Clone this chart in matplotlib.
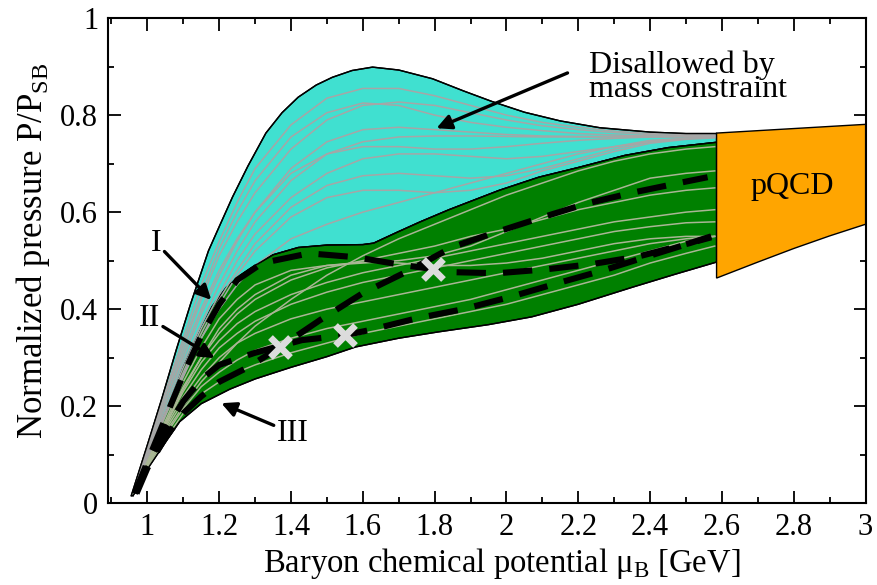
import numpy as np
import matplotlib
matplotlib.use("Agg")
import matplotlib.pyplot as plt
from matplotlib.ticker import MultipleLocator, FormatStrFormatter

plt.rcParams['font.family'] = ['Liberation Serif', 'DejaVu Serif']
plt.rcParams['mathtext.fontset'] = 'custom'
plt.rcParams['mathtext.rm'] = 'Liberation Serif'

# Region boundaries
cyan_top_x = [0.955, 1.0, 1.04, 1.08, 1.12, 1.17, 1.2, 1.237, 1.28, 1.33, 1.375, 1.42, 1.47,
              1.515, 1.57, 1.627, 1.7, 1.794, 1.88, 1.96, 2.05, 2.15, 2.26, 2.4, 2.5, 2.585]
cyan_top_y = [0.015, 0.12, 0.215, 0.315, 0.41, 0.52, 0.57, 0.631, 0.695, 0.763, 0.805, 0.837, 0.862,
              0.878, 0.892, 0.899, 0.893, 0.875, 0.85, 0.828, 0.806, 0.788, 0.774, 0.765, 0.762, 0.762]

green_top_x = [0.96, 1.0, 1.05, 1.1, 1.15, 1.18, 1.22, 1.26, 1.3, 1.35, 1.42, 1.5, 1.6, 1.63,
               1.7, 1.76, 1.84, 1.98, 2.09, 2.2, 2.33, 2.45, 2.585]
green_top_y = [0.015, 0.09, 0.185, 0.28, 0.36, 0.405, 0.445, 0.47, 0.49, 0.512, 0.527, 0.532, 0.533, 0.536,
               0.56, 0.58, 0.605, 0.645, 0.672, 0.692, 0.717, 0.733, 0.744]

green_bot_x = [0.96, 1.0, 1.05, 1.09, 1.15, 1.23, 1.3, 1.4, 1.5, 1.58, 1.7, 1.81, 1.95, 2.07,
               2.2, 2.35, 2.47, 2.585]
green_bot_y = [0.015, 0.07, 0.125, 0.168, 0.205, 0.235, 0.256, 0.28, 0.302, 0.322, 0.34, 0.353, 0.368, 0.384,
               0.41, 0.445, 0.472, 0.497]

pqcd_x = [2.585, 2.585, 3.0, 3.0, 2.9, 2.8, 2.7]
pqcd_y = [0.464, 0.763, 0.781, 0.575, 0.551, 0.525, 0.497]

# Thin EOS curves, sampled on a common grid
grid_x = [0.96, 1.0, 1.05, 1.1, 1.15, 1.2, 1.25, 1.3, 1.4, 1.5, 1.6, 1.7, 1.8, 1.9, 2.0,
          2.1, 2.2, 2.3, 2.4, 2.5, 2.58]

cyan_curves = [
    [0.02, 0.115, 0.23, 0.34, 0.45, 0.54, 0.62, 0.69, 0.78, 0.835, 0.855, 0.855, 0.84, 0.82, 0.80, 0.785, 0.775, 0.767, 0.762, 0.76, 0.76],
    [0.02, 0.11, 0.225, 0.33, 0.43, 0.525, 0.6, 0.665, 0.755, 0.805, 0.825, 0.82, 0.80, 0.785, 0.775, 0.768, 0.762, 0.759, 0.757, 0.757, 0.758],
    [0.02, 0.11, 0.22, 0.32, 0.42, 0.51, 0.58, 0.64, 0.73, 0.79, 0.82, 0.827, 0.82, 0.805, 0.79, 0.778, 0.77, 0.764, 0.76, 0.758, 0.758],
    [0.02, 0.105, 0.21, 0.30, 0.39, 0.47, 0.54, 0.60, 0.69, 0.745, 0.77, 0.775, 0.77, 0.765, 0.76, 0.757, 0.756, 0.756, 0.756, 0.756, 0.757],
    [0.02, 0.10, 0.20, 0.29, 0.37, 0.45, 0.52, 0.58, 0.665, 0.72, 0.745, 0.755, 0.757, 0.757, 0.756, 0.755, 0.755, 0.755, 0.755, 0.755, 0.756],
    [0.02, 0.105, 0.21, 0.31, 0.40, 0.48, 0.545, 0.6, 0.68, 0.72, 0.735, 0.735, 0.73, 0.73, 0.735, 0.742, 0.748, 0.752, 0.755, 0.757, 0.758],
    [0.02, 0.10, 0.19, 0.28, 0.36, 0.43, 0.50, 0.555, 0.63, 0.68, 0.71, 0.72, 0.72, 0.715, 0.71, 0.715, 0.725, 0.735, 0.745, 0.752, 0.755],
    [0.02, 0.095, 0.185, 0.27, 0.35, 0.42, 0.48, 0.535, 0.61, 0.655, 0.675, 0.68, 0.675, 0.67, 0.675, 0.69, 0.71, 0.73, 0.745, 0.752, 0.755],
    [0.02, 0.095, 0.18, 0.265, 0.34, 0.41, 0.47, 0.52, 0.59, 0.63, 0.645, 0.645, 0.64, 0.645, 0.66, 0.685, 0.705, 0.725, 0.742, 0.75, 0.753],
    [0.02, 0.09, 0.18, 0.26, 0.34, 0.40, 0.45, 0.49, 0.545, 0.575, 0.60, 0.62, 0.64, 0.66, 0.68, 0.70, 0.72, 0.735, 0.748, 0.752, 0.755],
]

green_curves = [
    [0.02, 0.085, 0.17, 0.25, 0.32, 0.38, 0.42, 0.45, 0.48, 0.49, 0.495, 0.50, 0.51, 0.53, 0.56, 0.59, 0.62, 0.645, 0.67, 0.68, 0.685],
    [0.02, 0.085, 0.165, 0.24, 0.30, 0.35, 0.39, 0.42, 0.46, 0.485, 0.50, 0.515, 0.53, 0.55, 0.565, 0.585, 0.605, 0.62, 0.635, 0.645, 0.65],
    [0.02, 0.08, 0.16, 0.23, 0.29, 0.335, 0.37, 0.395, 0.43, 0.455, 0.475, 0.49, 0.505, 0.52, 0.535, 0.55, 0.565, 0.58, 0.59, 0.60, 0.605],
    [0.02, 0.08, 0.155, 0.22, 0.275, 0.32, 0.35, 0.375, 0.41, 0.435, 0.455, 0.47, 0.485, 0.50, 0.515, 0.53, 0.545, 0.56, 0.57, 0.578, 0.58],
    [0.02, 0.078, 0.15, 0.21, 0.26, 0.30, 0.33, 0.35, 0.38, 0.40, 0.415, 0.43, 0.445, 0.46, 0.475, 0.49, 0.505, 0.52, 0.535, 0.545, 0.55],
    [0.02, 0.075, 0.14, 0.195, 0.24, 0.27, 0.295, 0.315, 0.34, 0.36, 0.375, 0.39, 0.405, 0.42, 0.44, 0.46, 0.48, 0.50, 0.52, 0.54, 0.55],
    [0.02, 0.075, 0.145, 0.2, 0.25, 0.29, 0.33, 0.365, 0.42, 0.47, 0.51, 0.545, 0.575, 0.605, 0.635, 0.66, 0.685, 0.705, 0.72, 0.73, 0.735],
    [0.02, 0.08, 0.16, 0.235, 0.3, 0.36, 0.4, 0.43, 0.47, 0.49, 0.497, 0.495, 0.49, 0.49, 0.495, 0.505, 0.52, 0.535, 0.545, 0.55, 0.55],
    [0.02, 0.072, 0.132, 0.185, 0.225, 0.25, 0.27, 0.285, 0.31, 0.33, 0.35, 0.365, 0.38, 0.395, 0.41, 0.43, 0.45, 0.47, 0.495, 0.515, 0.53],
]

# Representative EOSs I, II, III
eos1_x = [0.965, 1.0, 1.05, 1.1, 1.15, 1.2, 1.25, 1.32, 1.45, 1.58, 1.71, 1.79, 1.86, 1.975,
          2.11, 2.24, 2.37, 2.51, 2.57]
eos1_y = [0.02, 0.085, 0.175, 0.265, 0.345, 0.41, 0.46, 0.495, 0.515, 0.507, 0.491, 0.483, 0.476, 0.474,
          0.482, 0.493, 0.509, 0.536, 0.55]
eos2_x = [0.965, 1.0, 1.05, 1.1, 1.15, 1.2, 1.3, 1.43, 1.55, 1.62, 1.75, 1.88, 2.01, 2.14,
          2.27, 2.39, 2.52, 2.57]
eos2_y = [0.02, 0.08, 0.15, 0.21, 0.255, 0.285, 0.31, 0.336, 0.346, 0.357, 0.381, 0.40, 0.425, 0.453,
          0.48, 0.508, 0.538, 0.548]
eos3_x = [0.97, 1.0, 1.05, 1.1, 1.15, 1.2, 1.28, 1.37, 1.48, 1.6, 1.73, 1.85, 1.96, 2.09,
          2.22, 2.35, 2.48, 2.56]
eos3_y = [0.02, 0.072, 0.135, 0.185, 0.22, 0.25, 0.28, 0.322, 0.377, 0.433, 0.48, 0.528, 0.556, 0.587,
          0.617, 0.64, 0.66, 0.672]

# Centres of maximally massive stars
cross_x = [1.37, 1.55, 1.795]
cross_y = [0.322, 0.346, 0.483]

fig = plt.figure(figsize=(8.77, 5.85), dpi=100)
ax = fig.add_axes([0.123, 0.140, 0.864, 0.829])

ax.fill(cyan_top_x + green_top_x[::-1], cyan_top_y + green_top_y[::-1],
        facecolor='#40e0d0', edgecolor='black', lw=1.0, zorder=1)
ax.fill(green_top_x + green_bot_x[::-1], green_top_y + green_bot_y[::-1],
        facecolor='#008000', edgecolor='black', lw=1.0, zorder=2)

for cy in cyan_curves:
    ax.plot(grid_x, cy, color='#a6a6a6', lw=1.1, zorder=3)
for gy in green_curves:
    ax.plot(grid_x, gy, color='#a9b694', lw=1.1, zorder=3)

# redraw outlines above the thin curves
ax.plot(cyan_top_x, cyan_top_y, color='black', lw=1.0, zorder=4)
ax.plot(green_top_x[7:], green_top_y[7:], color='black', lw=1.0, zorder=4)
ax.plot(green_bot_x, green_bot_y, color='black', lw=1.0, zorder=4)
ax.plot([green_bot_x[-1], cyan_top_x[-1]], [green_bot_y[-1], cyan_top_y[-1]], color='black', lw=1.0, zorder=4)

for ex, ey in [(eos1_x, eos1_y), (eos2_x, eos2_y), (eos3_x, eos3_y)]:
    ax.plot(ex, ey, color='black', lw=4.4, dashes=(4.8, 2.8), zorder=5)

ax.plot(cross_x, cross_y, ls='none', marker='x', ms=15, mew=4.8, color='#dcdcdc', zorder=6)

ax.fill(pqcd_x, pqcd_y, facecolor='#ffa500', edgecolor='black', lw=1.0, zorder=7)
ax.text(2.797, 0.652, 'pQCD', fontsize=23, ha='center', va='center', zorder=8)

arrow = dict(arrowstyle='-|>', color='black', lw=2.4, mutation_scale=22, shrinkA=0, shrinkB=0)
ax.annotate('', xy=(1.805, 0.773), xytext=(2.17, 0.887), arrowprops=arrow, zorder=8)
ax.text(2.23, 0.878, 'Disallowed by\nmass constraint', fontsize=23, ha='left', va='center',
        linespacing=0.78, zorder=8)
ax.annotate('I', xy=(1.178, 0.419), xytext=(1.025, 0.536), arrowprops=arrow,
            fontsize=23, ha='center', va='center', zorder=8)
ax.annotate('II', xy=(1.187, 0.299), xytext=(1.006, 0.381), arrowprops=arrow,
            fontsize=23, ha='center', va='center', zorder=8)
ax.annotate('III', xy=(1.206, 0.206), xytext=(1.404, 0.144), arrowprops=arrow,
            fontsize=23, ha='center', va='center', zorder=8)

ax.set_xlim(0.89, 3.0)
ax.set_ylim(0, 1)
ax.xaxis.set_major_locator(MultipleLocator(0.2))
ax.xaxis.set_minor_locator(MultipleLocator(0.1))
ax.yaxis.set_major_locator(MultipleLocator(0.2))
ax.yaxis.set_minor_locator(MultipleLocator(0.1))
ax.xaxis.set_major_formatter(FormatStrFormatter('%g'))
ax.yaxis.set_major_formatter(FormatStrFormatter('%g'))
ax.tick_params(which='both', direction='in', top=True, right=True, width=1.3, labelsize=22)
ax.tick_params(which='major', length=9, pad=7)
ax.tick_params(which='minor', length=4.5)
for s in ax.spines.values():
    s.set_linewidth(1.5)

ax.set_xlabel('Baryon chemical potential μ$_{\\mathrm{B}}$ [GeV]', fontsize=23.5)
ax.set_ylabel('Normalized pressure P/P$_{\\mathrm{SB}}$', fontsize=25)
ax.xaxis.set_label_coords(0.52, -0.088)
ax.yaxis.set_label_coords(-0.074, 0.52)

fig.savefig('out.png', dpi=100)
